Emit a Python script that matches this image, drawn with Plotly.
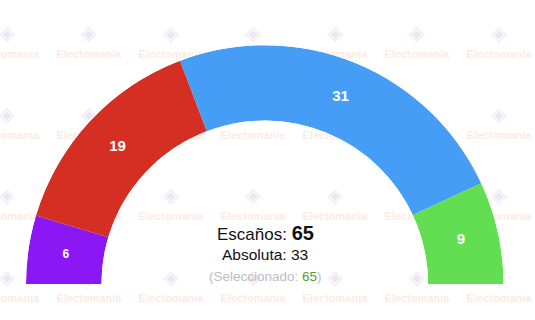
import plotly.graph_objects as go
import numpy as np

# ---- data ----
parties = ["A", "B", "C", "D"]
seats = [6, 19, 31, 9]
colors = ["#8c17f5", "#d42f22", "#469df6", "#63dd51"]
label_sizes = [12, 15, 15, 15]
total_seats = 65
majority = 33
selected = 65

# watermark grid (pixel positions of the tiled "Electomania" marks)
wm_x = [7, 89, 171, 253, 335, 417, 499]
wm_y = [55, 136, 217, 299]
wm_text = "Electomania"

W, H = 535, 320

total = sum(seats)
span = 180.0 / total
widths = [s * span for s in seats]
cum = np.cumsum(seats)
mids = [(c - s / 2) * span for c, s in zip(cum, seats)]

fig = go.Figure()

# watermark (cartesian, drawn beneath the polar layer)
gx, gy = np.meshgrid(wm_x, wm_y)
fig.add_trace(go.Scatter(
    x=gx.ravel(), y=gy.ravel(), mode="text", text=[wm_text] * gx.size,
    textfont=dict(family="Liberation Sans, Arial", size=11, weight="bold",
                  color="rgba(245,195,170,0.35)"),
    hoverinfo="skip", showlegend=False, xaxis="x", yaxis="y"))
fig.add_trace(go.Scatter(
    x=gx.ravel(), y=gy.ravel() - 20, mode="text", text=["◈"] * gx.size,
    textfont=dict(family="DejaVu Sans", size=20, color="rgba(205,185,220,0.35)"),
    hoverinfo="skip", showlegend=False, xaxis="x", yaxis="y"))

fig.add_trace(go.Barpolar(
    r=[1] * len(seats), theta=mids, width=widths,
    marker=dict(color=colors, line=dict(width=0)),
    hoverinfo="skip", showlegend=False))

fig.add_trace(go.Scatterpolar(
    r=[0.5] * len(seats), theta=mids, mode="text",
    text=[str(s) for s in seats],
    textfont=dict(family="Liberation Sans, Arial", size=label_sizes, color="white", weight="bold"),
    hoverinfo="skip", showlegend=False))

fig.update_layout(
    width=W, height=H,
    margin=dict(l=0, r=0, t=0, b=0),
    paper_bgcolor="white", plot_bgcolor="rgba(0,0,0,0)",
    xaxis=dict(range=[0, W], visible=False, domain=[0, 1], fixedrange=True),
    yaxis=dict(range=[H, 0], visible=False, domain=[0, 1], fixedrange=True),
    polar=dict(
        domain=dict(x=[26 / W, 503.5 / W], y=[36 / H, 275 / H]),
        sector=[0, 180], hole=0.684, bgcolor="rgba(0,0,0,0)",
        angularaxis=dict(visible=False, direction="clockwise", rotation=180),
        radialaxis=dict(visible=False, range=[0, 1]),
    ),
    font=dict(family="Liberation Sans, Arial"),
)

fig.add_annotation(x=265, y=233, xref="x", yref="y", showarrow=False,
                   text=f"Escaños: <span style='font-size:20px'><b>{total_seats}</b></span>",
                   font=dict(size=17, color="#111111"))
fig.add_annotation(x=265, y=254, xref="x", yref="y", showarrow=False,
                   text=f"Absoluta: {majority}",
                   font=dict(size=15.5, color="#111111"))
fig.add_annotation(x=265, y=276, xref="x", yref="y", showarrow=False,
                   text=f"(Seleccionado: <span style='color:#4f9e3a'>{selected}</span>)",
                   font=dict(size=13.5, color="#bdbdbd"))

fig.write_html("out.html")
